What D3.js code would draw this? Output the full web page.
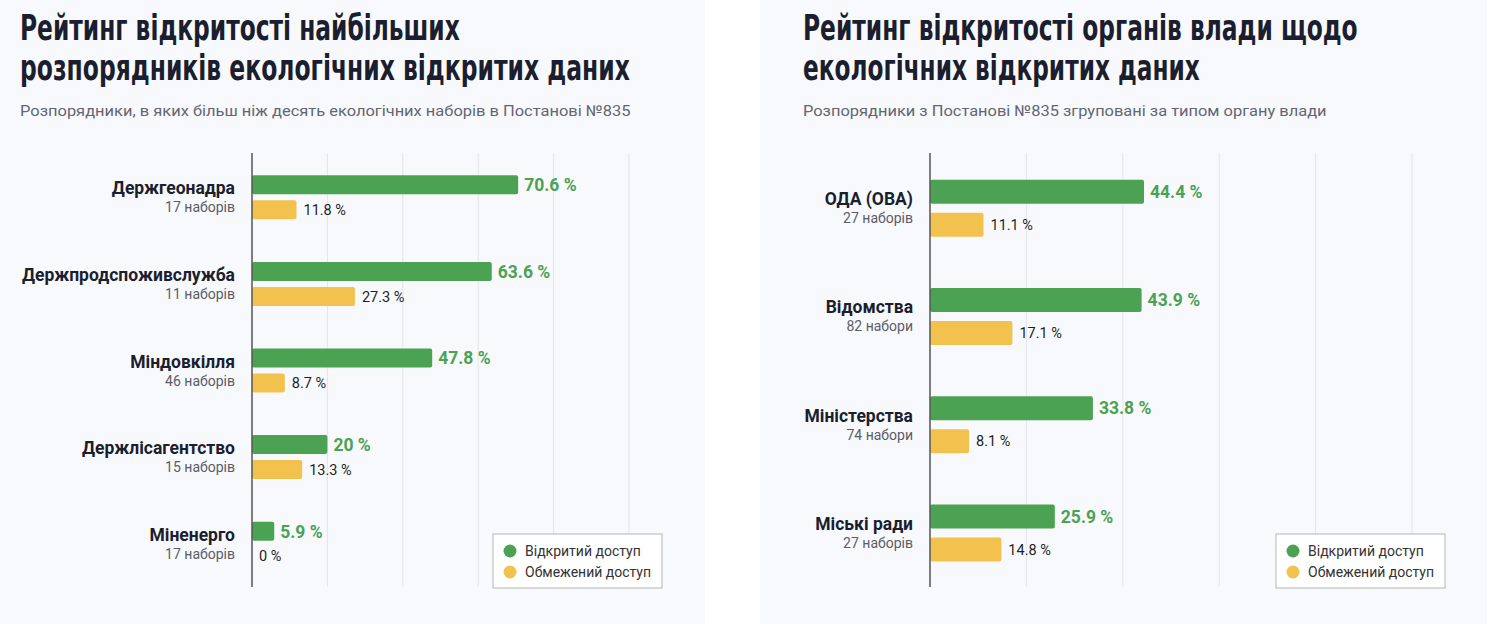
<!DOCTYPE html>
<html>
<head>
<meta charset="utf-8">
<script src="https://cdn.jsdelivr.net/npm/d3@7"></script>
<style>
  body { margin: 0; background: #fff; }
  svg { display: block; }
</style>
</head>
<body>
<svg id="chart" width="1500" height="624"></svg>
<script>
// data
const leftCats = ["Держгеонадра", "Держпродспоживслужба", "Міндовкілля", "Держлісагентство", "Міненерго"];
const leftSets = ["17 наборів", "11 наборів", "46 наборів", "15 наборів", "17 наборів"];
const leftOpen = [70.6, 63.6, 47.8, 20, 5.9];
const leftRestricted = [11.8, 27.3, 8.7, 13.3, 0];

const rightCats = ["ОДА (ОВА)", "Відомства", "Міністерства", "Міські ради"];
const rightSets = ["27 наборів", "82 набори", "74 набори", "27 наборів"];
const rightOpen = [44.4, 43.9, 33.8, 25.9];
const rightRestricted = [11.1, 17.1, 8.1, 14.8];

const legendLabels = ["Відкритий доступ", "Обмежений доступ"];
const gridTicks = [0, 20, 40, 60, 80, 100];

// style
const GREEN = "#4ba253", YELLOW = "#f2c14e", INK = "#1b1e2e";
const titleFont = "'DejaVu Sans Condensed','DejaVu Sans',sans-serif";
const bodyFont = "Roboto, 'Noto Sans', sans-serif";

const svg = d3.select("#chart");

const panels = [
  {
    x0: 0, x1: 705,
    title: ["Рейтинг відкритості найбільших", "розпорядників екологічних відкритих даних"],
    titleW: [440, 610],
    subtitle: "Розпорядники, в яких більш ніж десять екологічних наборів в Постанові №835",
    subW: 611,
    cats: leftCats, sets: leftSets, open: leftOpen, restricted: leftRestricted,
    tx: 20, axisX: 252, maxX: 629, labelX: 235, barH: 19, offset: 12.5,
    legend: {x: 493, y: 534}
  },
  {
    x0: 760, x1: 1487,
    title: ["Рейтинг відкритості органів влади щодо", "екологічних відкритих даних"],
    titleW: [555, 397],
    subtitle: "Розпорядники з Постанові №835 згруповані за типом органу влади",
    subW: 524,
    cats: rightCats, sets: rightSets, open: rightOpen, restricted: rightRestricted,
    tx: 803, axisX: 930, maxX: 1412, labelX: 913, barH: 24, offset: 16.5,
    legend: {x: 1276, y: 534}
  }
];

panels.forEach(drawPanel);

// squeeze a text horizontally so it spans w pixels from x
function fitWidth(sel, x, w) {
  const nat = sel.node().getComputedTextLength();
  const k = w / nat;
  sel.attr("x", 0).attr("transform", `translate(${x},0) scale(${k},1)`);
}

function drawPanel(p) {
  const g = svg.append("g");
  g.append("rect").attr("x", p.x0).attr("y", 0)
    .attr("width", p.x1 - p.x0).attr("height", 624).attr("fill", "#f8f9fc");

  // title
  p.title.forEach((t, i) => {
    const tt = g.append("text").attr("y", 40 + i * 40)
      .attr("font-family", titleFont).attr("font-weight", 700)
      .attr("font-size", 35).attr("fill", INK)
      .text(t);
    fitWidth(tt, p.tx, p.titleW[i]);
  });
  const st = g.append("text").attr("y", 116)
    .attr("font-family", bodyFont).attr("font-size", 15).attr("fill", "#636672")
    .text(p.subtitle);
  fitWidth(st, p.tx, p.subW);

  const top = 154, bottom = 587;
  const x = d3.scaleLinear().domain([0, 100]).range([p.axisX, p.maxX]);
  const y = d3.scaleBand().domain(p.cats).range([top, bottom]);

  // grid
  g.selectAll(".grid").data(gridTicks.slice(1)).join("line")
    .attr("x1", d => x(d)).attr("x2", d => x(d))
    .attr("y1", top - 1).attr("y2", bottom)
    .attr("stroke", "#e3e5ea").attr("stroke-width", 1);

  const rows = g.selectAll(".row").data(p.cats).join("g")
    .attr("transform", d => `translate(0,${y(d) + y.bandwidth() / 2})`);

  // bars
  rows.append("rect")
    .attr("x", p.axisX).attr("y", -p.offset - p.barH / 2)
    .attr("width", (d, i) => x(p.open[i]) - x(0)).attr("height", p.barH)
    .attr("rx", 2).attr("fill", GREEN);
  rows.append("rect")
    .attr("x", p.axisX).attr("y", p.offset - p.barH / 2)
    .attr("width", (d, i) => x(p.restricted[i]) - x(0)).attr("height", p.barH)
    .attr("rx", 2).attr("fill", YELLOW);

  // values
  rows.append("text")
    .attr("x", (d, i) => x(p.open[i]) + 6).attr("y", -p.offset)
    .attr("dy", "0.36em").attr("font-family", bodyFont).attr("font-weight", 700)
    .attr("font-size", 17.5).attr("fill", GREEN)
    .text((d, i) => p.open[i] + " %");
  rows.append("text")
    .attr("x", (d, i) => x(p.restricted[i]) + 7).attr("y", p.offset)
    .attr("dy", "0.36em").attr("font-family", bodyFont)
    .attr("font-size", 14.5).attr("fill", "#1e1e24")
    .text((d, i) => p.restricted[i] + " %");

  // category labels
  rows.append("text")
    .attr("x", p.labelX).attr("y", -3)
    .attr("text-anchor", "end").attr("font-family", bodyFont).attr("font-weight", 700)
    .attr("font-size", 17.5).attr("fill", INK)
    .text(d => d);
  rows.append("text")
    .attr("x", p.labelX).attr("y", 15)
    .attr("text-anchor", "end").attr("font-family", bodyFont)
    .attr("font-size", 14).attr("fill", "#5a5d68")
    .text((d, i) => p.sets[i]);

  // axis line
  g.append("line").attr("x1", p.axisX).attr("x2", p.axisX)
    .attr("y1", top - 1).attr("y2", bottom)
    .attr("stroke", "#555").attr("stroke-width", 1.5);

  // legend
  const lg = g.append("g").attr("transform", `translate(${p.legend.x},${p.legend.y})`);
  lg.append("rect").attr("width", 169).attr("height", 54)
    .attr("fill", "#fff").attr("stroke", "#b5b5b5").attr("stroke-width", 1);
  const items = lg.selectAll(".li").data(legendLabels).join("g")
    .attr("transform", (d, i) => `translate(0,${17 + i * 21})`);
  items.append("circle").attr("cx", 17).attr("r", 6.5)
    .attr("fill", (d, i) => i === 0 ? GREEN : YELLOW);
  items.append("text").attr("x", 32).attr("dy", "0.36em")
    .attr("font-family", bodyFont).attr("font-size", 14).attr("fill", "#333")
    .text(d => d);
}
</script>
</body>
</html>
